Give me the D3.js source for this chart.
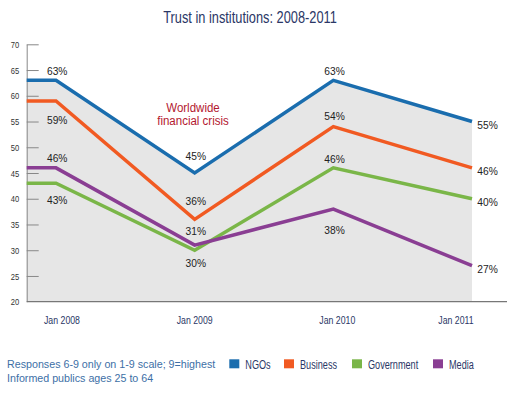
<!DOCTYPE html>
<html>
<head>
<meta charset="utf-8">
<script src="https://cdn.jsdelivr.net/npm/d3@7"></script>
<style>
  body { margin: 0; background: #fff; }
  text { font-family: "Liberation Sans", Arial, sans-serif; }
</style>
</head>
<body>
<div id="chart"></div>
<script>
// data
const periods = ["Jan 2008", "Jan 2009", "Jan 2010", "Jan 2011"]
const ngos = [63, 45, 63, 55]
const business = [59, 36, 54, 46]
const government = [43, 30, 46, 40]
const media = [46, 31, 38, 27]
const yTicks = [20, 25, 30, 35, 40, 45, 50, 55, 60, 65, 70]
const seriesNames = ["NGOs", "Business", "Government", "Media"]
const notes = ["Responses 6-9 only on 1-9 scale; 9=highest", "Informed publics ages 25 to 64"]

const width = 518, height = 399
const colors = {NGOs: "#1a6dae", Business: "#f15a22", Government: "#7ab648", Media: "#8a3e93"}
// baseline offset of each value label from its point ("r" = to the right)
const labelDy = {
    NGOs: [-5.2, -13, -5.2, "r"],
    Business: [23, -14.4, -6.6, "r"],
    Government: [21, 16.6, -4.5, "r"],
    Media: [-5.5, -10, 25, "r"]
}

const allSeries = [
    {name: "NGOs", values: ngos},
    {name: "Business", values: business},
    {name: "Government", values: government},
    {name: "Media", values: media}
]

//squeeze text horizontally to look like a condensed face
function condense(sel, f) {
    sel.each(function () {
        const w = this.getComputedTextLength()
        this.setAttribute("textLength", w * f)
        this.setAttribute("lengthAdjust", "spacingAndGlyphs")
    })
}

const svg = d3.select("#chart").append("svg")
    .attr("viewBox", [0, 0, width, height])
    .attr("width", width)
    .attr("height", height)

const axisX = 26.7
const xScale = d3.scalePoint().domain(periods).range([56, 472])
const yScale = d3.scaleLinear().domain([20, 70]).range([301.7, 44.3])

//title
svg.append("text")
    .attr("x", 250).attr("y", 23)
    .attr("text-anchor", "middle")
    .attr("font-size", 16)
    .attr("fill", "#2b3766")
    .text("Trust in institutions: 2008-2011")
    .call(condense, 0.8)

// points incl. the flat lead-in from the axis
const toPoints = vals => [{x: axisX, v: vals[0]}].concat(vals.map((v, i) => ({x: xScale(periods[i]), v})))

//gray area under the top line
const topVals = periods.map((p, i) => d3.max(allSeries, s => s.values[i]))
const area = d3.area()
    .x(d => d.x)
    .y0(yScale(20))
    .y1(d => yScale(d.v))
svg.append("path")
    .datum(toPoints(topVals))
    .attr("fill", "#e6e6e6")
    .attr("d", area)

//y axis
const yAxis = svg.append("g")
    .attr("transform", `translate(${axisX},0)`)
    .call(d3.axisLeft(yScale).tickValues(yTicks).tickSizeInner(-12).tickSizeOuter(0).tickPadding(7.5))
yAxis.attr("font-family", null)
yAxis.select(".domain").attr("stroke", "#888")
yAxis.selectAll(".tick line").attr("stroke", "#888")
yAxis.selectAll(".tick text")
    .attr("font-size", 9.5)
    .attr("fill", "#333")
    .call(condense, 0.8)
yAxis.selectAll(".tick").filter(d => d === 20).select("line").remove()

//baseline
svg.append("line")
    .attr("x1", axisX).attr("x2", 507)
    .attr("y1", yScale(20)).attr("y2", yScale(20))
    .attr("stroke", "#777").attr("stroke-width", 1.2)

//x labels
svg.selectAll(".xlab")
    .data(periods)
    .join("text")
    .attr("x", (d, i) => xScale(d) + [6, 0, 4, -16][i])
    .attr("y", 324)
    .attr("text-anchor", "middle")
    .attr("font-size", 11.5)
    .attr("fill", "#2b3766")
    .text(d => d)
    .call(condense, 0.76)

//lines
const line = d3.line().x(d => d.x).y(d => yScale(d.v))
allSeries.forEach(s => {
    svg.append("path")
        .datum(toPoints(s.values))
        .attr("fill", "none")
        .attr("stroke", colors[s.name])
        .attr("stroke-width", 3.5)
        .attr("stroke-linejoin", "miter")
        .attr("d", line)
})

//value labels
allSeries.forEach(s => {
    s.values.forEach((v, i) => {
        const dy = labelDy[s.name][i]
        const px = xScale(periods[i]), py = yScale(v)
        const t = svg.append("text")
            .attr("font-size", 11)
            .attr("fill", "#222")
            .text(v + "%")
        if (dy === "r") {
            t.attr("x", px + 5.3).attr("y", py + 7.5)
        } else {
            t.attr("x", px + 1.2).attr("y", py + dy).attr("text-anchor", "middle")
        }
        t.call(condense, 0.93)
    })
})

//annotation
svg.append("text")
    .attr("text-anchor", "middle")
    .attr("font-size", 12.5)
    .attr("fill", "#b3182f")
    .selectAll("tspan")
    .data(["Worldwide", "financial crisis"])
    .join("tspan")
    .attr("x", 193)
    .attr("y", (d, i) => 112 + i * 13.3)
    .text(d => d)
    .call(condense, 0.92)

//notes
svg.selectAll(".note")
    .data(notes)
    .join("text")
    .attr("x", 7)
    .attr("y", (d, i) => 368 + i * 14)
    .attr("font-size", 10.7)
    .attr("fill", "#3d6fa6")
    .text(d => d)

//legend
const legendX = [229.3, 284, 352, 433]
const legend = svg.selectAll(".leg")
    .data(seriesNames)
    .join("g")
    .attr("transform", (d, i) => `translate(${legendX[i]},359.3)`)
legend.append("rect")
    .attr("width", 10).attr("height", 9)
    .attr("fill", d => colors[d])
legend.append("text")
    .attr("x", 16).attr("y", 9.5)
    .attr("font-size", 12.5)
    .attr("fill", "#2b3766")
    .text(d => d)
    .call(condense, 0.73)
</script>
</body>
</html>
